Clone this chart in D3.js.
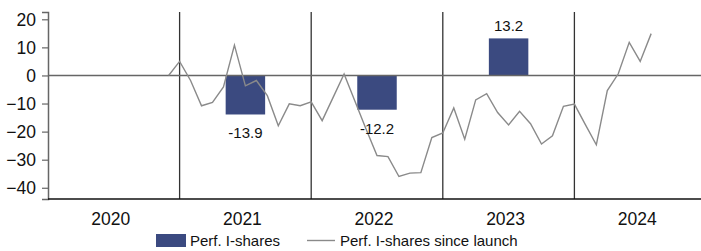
<!DOCTYPE html>
<html>
<head>
<meta charset="utf-8">
<script src="https://cdn.jsdelivr.net/npm/d3@7"></script>
<style>
  body { margin: 0; background: #fff; }
  text { font-family: "Liberation Sans", Arial, sans-serif; fill: #111; }
</style>
</head>
<body>
<div id="chart"></div>
<script>
var svgWidth = 701;
var svgHeight = 251;

var margin = { top: 12, right: -5, bottom: 52, left: 48 };
var width = svgWidth - margin.left - margin.right;
var height = svgHeight - margin.top - margin.bottom;

// yearly bars
var years = ["2020", "2021", "2022", "2023", "2024"];
var barYears = ["2021", "2022", "2023"];
var barValues = [-13.9, -12.2, 13.2];

// monthly line (month index counted from Jan 2020)
var lineMonths = [11, 12, 13, 14, 15, 16, 17, 18, 19, 20, 21, 22, 23, 24, 25, 26, 27, 28, 29, 30,
  31, 32, 33, 34, 35, 36, 37, 38, 39, 40, 41, 42, 43, 44, 45, 46, 47, 48, 49, 50, 51, 52, 53, 54, 55];
var lineValues = [0, 5.0, -1.8, -10.8, -9.6, -4.1, 10.8, -3.7, -1.8, -7.2, -17.9, -10.1, -10.8, -9.4, -16.1, -7.8, 0.5, -9.3, -19.1, -28.5,
  -28.9, -36.0, -34.8, -34.6, -22.1, -20.5, -11.6, -22.7, -8.7, -6.5, -13.2, -17.6, -12.8, -17.2, -24.4, -21.5, -11.0, -10.2, -17.5, -24.7,
  -5.4, 0.6, 11.8, 5.0, 14.9];

var yTicks = [20, 10, 0, -10, -20, -30, -40];

var barColor = "#3b4a80";
var lineColor = "#8a8a8a";

var svg = d3.select("#chart")
  .append("svg")
  .attr("width", svgWidth)
  .attr("height", svgHeight);

var chartGroup = svg.append("g")
  .attr("transform", `translate(${margin.left}, ${margin.top})`);

var xBand = d3.scaleBand()
  .domain(years)
  .range([0, width]);

var xMonth = d3.scaleLinear()
  .domain([0, 60])
  .range([0, width]);

var yScale = d3.scaleLinear()
  .domain([-44, 22.6])
  .range([height, 0]);

// y axis
var leftAxis = d3.axisLeft(yScale)
  .tickValues(yTicks)
  .tickSize(6)
  .tickPadding(6);

var yAxis = chartGroup.append("g").call(leftAxis);
yAxis.select(".domain").attr("stroke", "#666").attr("stroke-width", 1.5);
yAxis.selectAll(".tick line").attr("stroke", "#666").attr("stroke-width", 1.2);
yAxis.selectAll(".tick text")
  .attr("font-size", "17.5px")
  .attr("fill", "#111")
  .attr("dy", "0.35em");

// year dividers
chartGroup.selectAll(".divider")
  .data(years.slice(1))
  .enter()
  .append("line")
  .attr("x1", d => xBand(d))
  .attr("x2", d => xBand(d))
  .attr("y1", 0)
  .attr("y2", height)
  .attr("stroke", "#333")
  .attr("stroke-width", 1.3);

// bars
chartGroup.selectAll(".bar")
  .data(barYears)
  .enter()
  .append("rect")
  .attr("x", d => xBand(d) + xBand.bandwidth() * 0.35)
  .attr("width", xBand.bandwidth() * 0.3)
  .attr("y", (d, i) => yScale(Math.max(0, barValues[i])))
  .attr("height", (d, i) => Math.abs(yScale(barValues[i]) - yScale(0)))
  .attr("fill", barColor);

// zero line
chartGroup.append("line")
  .attr("x1", 0)
  .attr("x2", width)
  .attr("y1", yScale(0))
  .attr("y2", yScale(0))
  .attr("stroke", "#666")
  .attr("stroke-width", 1.5);

// line series
var line = d3.line()
  .x(d => xMonth(d[0]))
  .y(d => yScale(d[1]));

chartGroup.append("path")
  .datum(lineMonths.map((m, i) => [m, lineValues[i]]))
  .attr("d", line)
  .attr("fill", "none")
  .attr("stroke", lineColor)
  .attr("stroke-width", 1.4);

// bar labels
chartGroup.selectAll(".barLabel")
  .data(barYears)
  .enter()
  .append("text")
  .attr("x", d => xBand(d) + xBand.bandwidth() / 2)
  .attr("y", (d, i) => barValues[i] < 0 ? yScale(barValues[i]) + 24 : yScale(barValues[i]) - 7)
  .attr("text-anchor", "middle")
  .attr("font-size", "15px")
  .text((d, i) => barValues[i].toFixed(1));

// x axis
chartGroup.append("line")
  .attr("x1", 0)
  .attr("x2", width)
  .attr("y1", height)
  .attr("y2", height)
  .attr("stroke", "#111")
  .attr("stroke-width", 1.5);

chartGroup.selectAll(".yearLabel")
  .data(years)
  .enter()
  .append("text")
  .attr("x", d => xBand(d) + xBand.bandwidth() / 2 - 3)
  .attr("y", height + 26)
  .attr("text-anchor", "middle")
  .attr("font-size", "17.5px")
  .text(d => d);

// legend
var legend = svg.append("g");
legend.append("rect")
  .attr("x", 156)
  .attr("y", 234)
  .attr("width", 30)
  .attr("height", 13)
  .attr("fill", barColor);
legend.append("text")
  .attr("x", 190)
  .attr("y", 246)
  .attr("font-size", "15px")
  .text("Perf. I-shares");
legend.append("line")
  .attr("x1", 307)
  .attr("x2", 335)
  .attr("y1", 240.5)
  .attr("y2", 240.5)
  .attr("stroke", lineColor)
  .attr("stroke-width", 1.4);
legend.append("text")
  .attr("x", 340)
  .attr("y", 246)
  .attr("font-size", "15px")
  .text("Perf. I-shares since launch");
</script>
</body>
</html>
